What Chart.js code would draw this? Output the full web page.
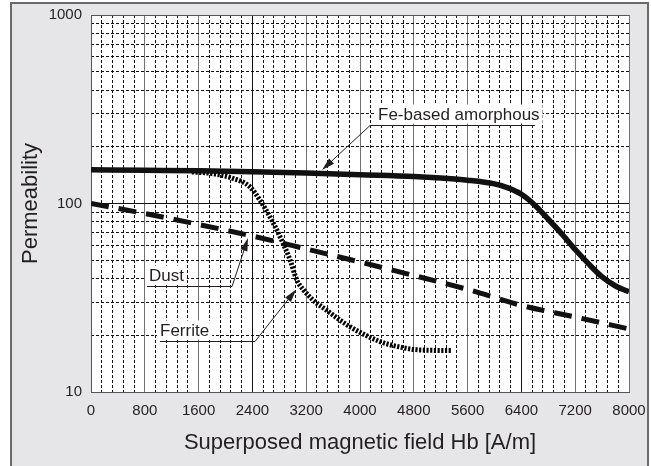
<!DOCTYPE html>
<html><head><meta charset="utf-8">
<script src="https://cdn.jsdelivr.net/npm/chart.js@4.4.1/dist/chart.umd.min.js"></script>
<style>html,body{margin:0;padding:0;background:#fff;}#wrap{width:651px;height:466px;position:relative;}</style>
</head><body><div id="wrap"><canvas id="c" width="651" height="466"></canvas></div>
<script>
// ---- data ----
const xTickLabels = [0, 800, 1600, 2400, 3200, 4000, 4800, 5600, 6400, 7200, 8000];
const yTickLabels = [10, 100, 1000];

const amorphousH  = [0, 800, 1600, 2400, 3200, 4000, 4800, 5200, 5600, 6000, 6200, 6400, 6600, 6800, 7000, 7200, 7400, 7600, 7800, 8000];
const amorphousMu = [151, 150, 149, 147.5, 145, 142, 139, 136.5, 133, 127, 121, 112, 98, 82.5, 69, 57, 47.8, 40.8, 36.5, 34];

const dustH  = [0, 800, 1600, 2400, 3200, 4000, 4800, 5600, 6400, 7200, 8000];
const dustMu = [100, 88.5, 77.4, 67.2, 57.4, 48.9, 41.5, 35.0, 28.8, 25.0, 21.6];

const ferriteH  = [1500, 1770, 2110, 2360, 2510, 2660, 2810, 2960, 3060, 3160, 3300, 3500, 3700, 3850, 4300, 4600, 4900, 5370];
const ferriteMu = [147, 144.6, 136, 122.8, 104.4, 85.1, 66.7, 50.2, 39.3, 34.8, 30.8, 27.2, 24.1, 22.2, 18.5, 17.3, 16.7, 16.6];

// annotation labels (data units)
const annoText      = ['Fe-based amorphous', 'Dust', 'Ferrite'];
const annoTextH     = [4268, 862, 1026];
const annoLineMu    = [261, 36.5, 18.6];
const annoLineFromH = [4149, 833, 1026];
const annoLineToH   = [6602, 2097, 2439];
const annoElbowH    = [4149, 2097, 2439];
const annoTipH      = [3435, 2335, 3050];
const annoTipMu     = [150.5, 65.6, 35];

const FAMILY = "'Liberation Sans', Arial, Helvetica, sans-serif";
const INK = '#231f20';

function pts(xs, ys) { return xs.map((v, i) => ({ x: v, y: ys[i] })); }
function minorList(lo, hi, step, skip) { const a = []; for (let v = lo; v <= hi; v += step) if (v % skip !== 0) a.push(v); return a; }
const xMinorTicks = minorList(0, 8000, 160, 800);
const yMinorTicks = [20,30,40,50,60,70,80,90,200,300,400,500,600,700,800,900];

const framePlugin = {
  id: 'frame',
  beforeDraw(chart) {
    const { ctx, chartArea: a } = chart;
    ctx.save();
    ctx.fillStyle = '#fff';
    ctx.fillRect(0, 0, chart.width, chart.height);
    ctx.fillStyle = '#e6e6e8';
    ctx.fillRect(10, 2, 639, 480);
    ctx.strokeStyle = '#6a6a6c';
    ctx.lineWidth = 2;
    ctx.strokeRect(11, 3, 637, 480);
    ctx.fillStyle = '#fff';
    ctx.fillRect(a.left, a.top, a.right - a.left, a.bottom - a.top);
    ctx.restore();
  }
};

const annoPlugin = {
  id: 'anno',
  afterDatasetsDraw(chart) {
    const { ctx } = chart;
    const x = chart.scales.x, y = chart.scales.y;
    ctx.save();
    ctx.font = '17px ' + FAMILY;
    for (let i = 0; i < annoText.length; i++) {
      const ly = Math.round(y.getPixelForValue(annoLineMu[i])) + 0.5;
      const tx = x.getPixelForValue(annoTextH[i]);
      const w = ctx.measureText(annoText[i]).width;
      ctx.fillStyle = '#fff';
      ctx.fillRect(tx - 3, ly - 21, w + 6, 19);
      ctx.fillStyle = INK;
      ctx.textBaseline = 'alphabetic';
      ctx.textAlign = 'left';
      ctx.fillText(annoText[i], tx, ly - 6);
      ctx.strokeStyle = INK;
      ctx.lineWidth = 1;
      const ex = x.getPixelForValue(annoElbowH[i]);
      const px = x.getPixelForValue(annoTipH[i]);
      const py = y.getPixelForValue(annoTipMu[i]);
      const ang = Math.atan2(py - ly, px - ex);
      const L = 13, W = 3.6;
      const c = Math.cos(ang), s = Math.sin(ang);
      ctx.beginPath();
      ctx.moveTo(x.getPixelForValue(annoLineFromH[i]), ly);
      ctx.lineTo(x.getPixelForValue(annoLineToH[i]), ly);
      ctx.moveTo(ex, ly);
      ctx.lineTo(px - L * c * 0.8, py - L * s * 0.8);
      ctx.stroke();
      ctx.beginPath();
      ctx.moveTo(px, py);
      ctx.lineTo(px - L * c + W * s, py - L * s - W * c);
      ctx.lineTo(px - L * c - W * s, py - L * s + W * c);
      ctx.closePath();
      ctx.fill();
    }
    ctx.restore();
  }
};

const majorXColor = v => (v === 2400 || v === 6400) ? '#111' : '#707072';
const noPad = s => { s.paddingLeft = 0; s.paddingRight = 0; s.paddingTop = 0; s.paddingBottom = 0; };

new Chart(document.getElementById('c'), {
  type: 'line',
  data: {
    datasets: [
      { label: 'Fe-based amorphous', data: pts(amorphousH, amorphousMu), borderColor: '#111', borderWidth: 5.5,
        cubicInterpolationMode: 'monotone', pointRadius: 0, fill: false, order: 0 },
      { label: 'Dust', data: pts(dustH, dustMu), borderColor: '#111', borderWidth: 5, borderDash: [18, 10],
        cubicInterpolationMode: 'monotone', pointRadius: 0, fill: false, order: 2 },
      { label: 'Ferrite', data: pts(ferriteH, ferriteMu), borderColor: '#000', borderWidth: 5, borderDash: [2.2, 1.5],
        cubicInterpolationMode: 'monotone', pointRadius: 0, fill: false, order: 1 }
    ]
  },
  options: {
    responsive: false,
    animation: false,
    devicePixelRatio: 1,
    layout: { padding: { left: 12, top: 15, right: 22, bottom: 0 } },
    plugins: { legend: { display: false }, tooltip: { enabled: false } },
    elements: { point: { radius: 0 }, line: { borderCapStyle: 'butt', borderJoinStyle: 'round' } },
    scales: {
      x: {
        type: 'linear', position: 'bottom', min: 0, max: 8000,
        afterBuildTicks: s => { s.ticks = xTickLabels.map(v => ({ value: v })); },
        afterFit: s => { s.height = 74; noPad(s); },
        ticks: { autoSkip: false, maxRotation: 0, padding: 10, color: INK, font: { size: 15, family: FAMILY }, callback: v => String(v) },
        grid: { color: c => majorXColor(c.tick ? c.tick.value : 0), lineWidth: 1, drawTicks: false },
        border: { display: true, color: '#555', width: 1 },
        title: { display: true, text: 'Superposed magnetic field Hb [A/m]', color: INK, font: { size: 22, family: FAMILY }, padding: { top: 0, bottom: 10 } }
      },
      xMinor: {
        type: 'linear', position: 'bottom', min: 0, max: 8000,
        afterBuildTicks: s => { s.ticks = xMinorTicks.map(v => ({ value: v })); },
        afterFit: s => { s.height = 0; noPad(s); },
        ticks: { display: false },
        grid: { color: '#111', lineWidth: 1, drawTicks: false },
        border: { display: false, dash: [3, 2] }
      },
      y: {
        type: 'logarithmic', position: 'left', min: 10, max: 1000,
        afterBuildTicks: s => { s.ticks = yTickLabels.map(v => ({ value: v })); },
        afterFit: s => { s.width = 79; noPad(s); },
        ticks: { padding: 9, color: INK, font: { size: 15, family: FAMILY }, callback: v => String(v) },
        grid: { color: c => (c.tick && c.tick.value === 100) ? '#111' : '#555', lineWidth: 1, drawTicks: false },
        border: { display: true, color: '#555', width: 1 },
        title: { display: true, text: 'Permeability', color: INK, font: { size: 22, family: FAMILY }, padding: { top: 6, bottom: 0 } }
      },
      yMinor: {
        type: 'logarithmic', position: 'left', min: 10, max: 1000,
        afterBuildTicks: s => { s.ticks = yMinorTicks.map(v => ({ value: v })); },
        afterFit: s => { s.width = 0; noPad(s); },
        ticks: { display: false },
        grid: { color: '#111', lineWidth: 1, drawTicks: false },
        border: { display: false, dash: [3, 2] }
      }
    }
  },
  plugins: [framePlugin, annoPlugin]
});
</script>
</body></html>
